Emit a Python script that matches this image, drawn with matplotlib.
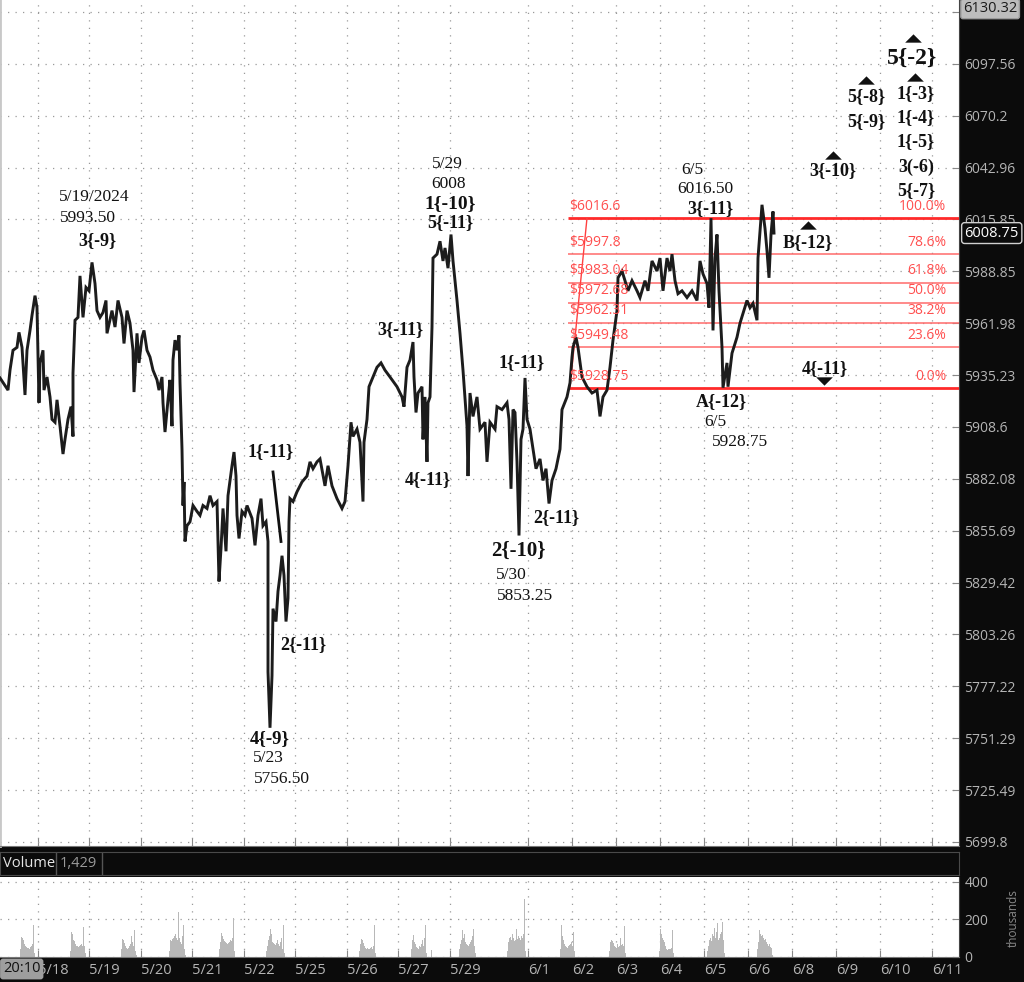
import numpy as np
import matplotlib.pyplot as plt
from matplotlib.ticker import NullLocator

# ==========================================
# data: price path (time index, price) by session
# ==========================================
path_0517 = [(0, 5933.75), (8, 5927.5), (10, 5937.75), (13, 5948.0), (17, 5949.5), (19, 5957.25),
             (22, 5949.5), (23, 5941.5), (25, 5925.0), (27, 5948.0), (30, 5958.25), (32, 5966.0),
             (35, 5976.25), (37, 5970.0), (39, 5921.0), (40, 5941.5), (43, 5948.0), (44, 5927.5),
             (47, 5934.25), (50, 5924.0), (52, 5912.5), (55, 5911.0), (57, 5922.5), (60, 5909.0),
             (63, 5894.75), (65, 5902.25), (68, 5912.5), (71, 5919.0), (73, 5903.75), (73, 5936.25)]
path_0519 = [(75, 5963.5), (78, 5965.0), (80, 5986.5), (83, 5965.0), (86, 5980.5), (89, 5978.75),
             (92, 5993.5), (95, 5982.5), (97, 5968.5), (100, 5965.0), (103, 5967.5), (106, 5973.75),
             (107, 5956.75), (112, 5968.5), (115, 5960.0), (118, 5973.75), (122, 5965.0), (124, 5951.5),
             (127, 5968.5), (130, 5962.0), (133, 5948.0), (134, 5926.5), (137, 5956.75), (139, 5941.5),
             (142, 5954.75), (144, 5958.25), (147, 5948.0), (150, 5944.5), (153, 5937.75), (157, 5932.75),
             (159, 5927.5), (162, 5934.25), (163, 5921.0), (165, 5906.0), (168, 5922.5), (170, 5932.75),
             (172, 5909.0), (173, 5943.0), (175, 5953.25), (177, 5948.0), (179, 5955.75), (180, 5931.25)]
path_0521 = [(182, 5897.25), (183, 5868.5), (184, 5880.5), (185, 5850.25), (187, 5858.25), (190, 5860.25),
             (193, 5868.5), (197, 5865.5), (200, 5863.5), (203, 5868.5), (207, 5867.0), (210, 5873.5),
             (213, 5868.5), (217, 5870.5), (219, 5830.0), (221, 5846.75), (223, 5867.0), (226, 5845.25),
             (228, 5873.5), (232, 5888.75), (234, 5895.75), (236, 5883.5), (237, 5863.5), (239, 5851.75),
             (242, 5865.5), (245, 5863.5), (247, 5868.5), (252, 5862.0), (255, 5848.25), (258, 5863.5),
             (261, 5872.0), (263, 5858.25), (266, 5860.25), (268, 5850.25)]
path_0523 = [(268, 5784.5), (270, 5756.5), (272, 5782.5), (273, 5816.25), (276, 5809.75), (278, 5825.0),
             (280, 5833.0), (282, 5843.0), (284, 5833.0), (286, 5809.75), (288, 5821.5), (289, 5860.25),
             (290, 5872.0), (293, 5870.5), (297, 5875.5), (302, 5880.5), (307, 5883.5), (310, 5890.75),
             (313, 5887.25), (317, 5890.75), (320, 5892.25), (325, 5878.5), (328, 5888.75), (332, 5878.5),
             (337, 5872.0), (342, 5867.0), (345, 5870.5), (348, 5888.75), (351, 5911.0), (353, 5903.75),
             (357, 5907.5), (360, 5900.75), (363, 5870.5), (364, 5900.75), (367, 5912.5)]
path_0527 = [(369, 5929.25), (373, 5934.25), (377, 5939.25), (381, 5941.5), (385, 5937.75), (390, 5934.25),
             (397, 5929.25), (402, 5924.0), (404, 5919.0), (407, 5939.25), (410, 5943.0), (413, 5952.25),
             (414, 5934.25), (416, 5916.0), (418, 5926.0), (422, 5929.25), (423, 5902.25), (425, 5924.0),
             (427, 5890.75), (428, 5921.0), (430, 5924.0), (432, 5960.0), (433, 5995.75), (437, 5997.75),
             (440, 6004.5), (443, 5994.25), (445, 6001.0), (448, 5990.5), (451, 6008.0), (453, 5994.25),
             (457, 5973.75), (460, 5956.75), (463, 5937.75), (467, 5909.0), (468, 5883.5), (470, 5926.0)]
path_0530 = [(473, 5914.0), (477, 5924.0), (480, 5907.5), (485, 5911.0), (487, 5890.75), (490, 5911.0),
             (495, 5907.5), (497, 5919.0), (502, 5917.5), (507, 5921.0), (509, 5912.5), (511, 5877.0),
             (513, 5917.5), (515, 5916.0), (517, 5890.75), (519, 5853.25), (521, 5902.25), (523, 5907.5),
             (525, 5933.75), (527, 5912.5), (530, 5907.5), (533, 5897.25), (536, 5887.25), (540, 5892.25),
             (543, 5881.25), (546, 5887.25), (549, 5869.5), (552, 5881.25), (556, 5887.25), (560, 5897.25)]
path_0602 = [(562, 5917.5), (567, 5924.0), (570, 5931.25), (572, 5944.5), (573, 5949.5), (576, 5954.75),
             (578, 5949.5), (582, 5934.25), (587, 5929.25), (592, 5926.0), (597, 5927.5), (600, 5914.0),
             (603, 5924.0), (607, 5927.5), (610, 5939.25), (613, 5953.25), (617, 5968.5), (618, 5985.5),
             (622, 5989.0), (625, 5984.0), (628, 5978.75), (632, 5984.0), (637, 5978.75), (640, 5975.25),
             (645, 5984.0), (648, 5978.75), (652, 5994.25), (657, 5989.0), (660, 5995.75), (663, 5978.75),
             (667, 5995.75), (670, 5989.0), (672, 5997.75), (675, 5984.0), (678, 5977.25), (682, 5978.75)]
path_0605 = [(687, 5975.25), (692, 5978.75), (697, 5973.75), (700, 5994.25), (703, 5987.5), (707, 5982.5),
             (709, 5970.0), (711, 6016.5), (713, 5958.25), (715, 5995.75), (717, 6008.0), (719, 5978.75),
             (722, 5949.5), (723, 5928.75), (727, 5941.5), (728, 5929.25), (732, 5946.5), (737, 5954.75),
             (740, 5962.0), (743, 5967.0), (747, 5973.75), (750, 5970.0), (753, 5972.25), (757, 5963.5),
             (758, 5995.75), (760, 6009.5), (762, 6023.5), (765, 6011.25), (767, 5999.5), (769, 5985.5),
             (771, 6008.0), (773, 6020.0), (774, 6008.75)]

# volume clusters: first bar index and bar heights
vol_start = [20, 70, 121, 169, 219, 266, 359, 411, 459, 507, 560, 609, 659, 707, 757]
vol_bars = [
    [40, 105, 100, 90, 70, 60, 55, 50, 50, 45, 55, 60, 70, 170, 20],
    [30, 130, 120, 90, 85, 70, 60, 60, 55, 60, 65, 70, 60, 157, 60, 20],
    [40, 95, 90, 75, 60, 50, 45, 50, 60, 70, 110, 80, 60, 142, 30, 10],
    [30, 90, 85, 95, 100, 110, 120, 100, 90, 240, 100, 80, 70, 110, 169, 40, 10],
    [40, 80, 125, 110, 95, 85, 80, 75, 70, 75, 80, 90, 85, 100, 205, 30],
    [30, 60, 90, 110, 150, 120, 80, 75, 70, 65, 75, 90, 70, 60, 80, 100, 40, 169, 20],
    [30, 70, 95, 90, 75, 60, 50, 45, 50, 40, 45, 50, 55, 45, 60, 169, 20],
    [40, 90, 116, 80, 70, 55, 50, 45, 60, 55, 70, 90, 60, 100, 169, 20, 0, 0, 0, 0, 36],
    [40, 70, 90, 142, 100, 120, 80, 70, 65, 60, 70, 80, 90, 110, 146, 60, 20],
    [30, 80, 100, 108, 90, 120, 100, 85, 90, 150, 95, 110, 100, 90, 110, 100, 120, 306, 30],
    [40, 171, 110, 90, 70, 60, 55, 50, 60, 65, 70, 80, 60, 135, 30],
    [30, 80, 90, 85, 75, 60, 55, 50, 70, 55, 60, 100, 65, 70, 60, 162, 20],
    [30, 148, 120, 100, 90, 80, 60, 45, 36, 40, 40, 45, 50, 144, 20],
    [30, 60, 90, 100, 85, 120, 110, 153, 100, 130, 180, 90, 100, 120, 130, 184, 90, 20],
    [40, 80, 144, 120, 110, 117, 100, 90, 95, 80, 70, 60, 70, 54, 50, 10],
]

price_ticks = [5699.8, 5725.49, 5751.29, 5777.22, 5803.26, 5829.42, 5855.69, 5882.08, 5908.6,
               5935.23, 5961.98, 5988.85, 6015.85, 6042.96, 6070.2, 6097.56, 6125.03]
date_ticks = [38, 89, 141, 192, 244, 295, 347, 398, 450, 528, 572, 616, 660, 704, 748, 792, 836, 880, 932]
date_labels = ['5/18', '5/19', '5/20', '5/21', '5/22', '5/25', '5/26', '5/27', '5/29', '6/1',
               '6/2', '6/3', '6/4', '6/5', '6/6', '6/8', '6/9', '6/10', '6/11']

fib_levels = [6016.6, 5997.8, 5983.04, 5972.68, 5962.31, 5949.48, 5928.75]
fib_pcts = ['100.0%', '78.6%', '61.8%', '50.0%', '38.2%', '23.6%', '0.0%']
fib_start = 568

last_price = 6008.75
axis_high = 6130.32
last_volume = '1,429'

# wave labels: (text, t, price, bold, size)
wave_labels = [
    ('5/19/2024', 94, 6027.4, False, 12.5), ('5993.50', 88, 6016.4, False, 12.5), ('3{-9}', 97, 6005.0, True, 13),
    ('1{-11}', 271, 5895.8, True, 13), ('2{-11}', 303, 5798.1, True, 13),
    ('4{-9}', 270, 5751.0, True, 13.5), ('5/23', 268, 5741.4, False, 12.5), ('5756.50', 282, 5730.8, False, 12.5),
    ('3{-11}', 400, 5958.8, True, 13), ('4{-11}', 428, 5881.6, True, 13),
    ('5/29', 447, 6044.7, False, 12.5), ('6008', 448, 6034.2, False, 12.5),
    ('1{-10}', 450, 6024.2, True, 14), ('5{-11}', 450, 6014.3, True, 13),
    ('1{-11}', 522, 5941.9, True, 13), ('2{-11}', 556, 5862.4, True, 13),
    ('2{-10}', 518, 5845.7, True, 15), ('5/30', 511, 5833.0, False, 12.5), ('5853.25', 525, 5822.4, False, 12.5),
    ('6/5', 692, 6041.6, False, 12.5), ('6016.50', 705, 6031.6, False, 12.5), ('3{-11}', 710, 6021.4, True, 13),
    ('A{-12}', 721, 5921.6, True, 13), ('6/5', 715, 5910.9, False, 12.5), ('5928.75', 740, 5900.8, False, 12.5),
    ('B{-12}', 808, 6004.0, True, 13), ('4{-11}', 825, 5938.8, True, 13), ('3{-10}', 833, 6041.6, True, 13),
    ('5{-8}', 866, 6080.4, True, 13), ('5{-9}', 866, 6067.3, True, 13),
    ('5{-2}', 912, 6100.7, True, 17),
    ('1{-3}', 916, 6082.0, True, 13), ('1{-4}', 916, 6069.4, True, 13), ('1{-5}', 916, 6056.8, True, 13),
    ('3(-6)', 916, 6043.2, True, 13), ('5{-7}', 916, 6031.1, True, 13),
]
# arrows: (t, price, up)
arrows = [(808, 6012.7, True), (824, 5932.2, False), (833, 6049.5, True),
          (866, 6088.8, True), (913, 6111.3, True), (915, 6090.4, True)]
# hand-drawn trend line and fib anchor line
trend_line = [(273, 5885.6), (281, 5850.2)]
fib_anchor = [(570, 5928.75), (587, 6016.6)]

# ==========================================
# figure
# ==========================================
W, H = 1024, 982
fig = plt.figure(figsize=(W / 100, H / 100), dpi=100, facecolor='#0b0b0b')
ui_font = 'Open Sans'
serif = 'Liberation Serif'
axis_grey = '#b4b4b4'
grid_kw = dict(color='#9a9a9a', linestyle=(0, (1, 5)), linewidth=0.9)

ax = fig.add_axes([0.0, 1 - 846 / H, 959 / W, 846 / H])
ax.set_facecolor('white')
ax.set_yscale('log')
ax.set_ylim(5697.8, 6131.4)
ax.set_xlim(0, 959)

paths = [path_0517, path_0519, path_0521, path_0523, path_0527, path_0530, path_0602, path_0605]
pts = [p for seg in paths for p in seg]
pt = np.array([p[0] for p in pts])
pv = np.array([p[1] for p in pts])
ax.plot(pt, pv, color='#1c1c1c', lw=2.1, zorder=4, solid_joinstyle='miter')

ax.set_yticks(price_ticks)
# top tick label sits under the session-high box, as on the reference
ax.set_yticklabels([f'{v:g}' for v in price_ticks[:-1]] + [''])
ax.yaxis.set_minor_locator(NullLocator())
ax.yaxis.tick_right()
ax.tick_params(axis='y', which='major', direction='in', length=5, color='#888888',
               labelcolor=axis_grey, labelsize=10, pad=4)
for lbl in ax.get_yticklabels():
    lbl.set_fontfamily(ui_font)
ax.set_xticks(date_ticks)
ax.tick_params(axis='x', direction='in', length=6, color='#888888', labelbottom=False)
ax.grid(True, **grid_kw)
ax.set_axisbelow(True)
ax.spines['top'].set_visible(False)
ax.spines['left'].set_color('#c8c8c8')
ax.spines['left'].set_linewidth(2)
ax.spines['bottom'].set_color('#777777')
ax.spines['right'].set_color('#444444')

# fibonacci retracement
for i, (lev, pct) in enumerate(zip(fib_levels, fib_pcts)):
    edge = i in (0, len(fib_levels) - 1)
    ax.plot([fib_start, 959], [lev, lev], color='#ff2a2a' if edge else '#ff6b6b',
            lw=2.0 if edge else 1.1, zorder=3, solid_capstyle='butt')
    ax.annotate(f'${lev:g}', (fib_start + 1, lev), xytext=(0, 3), textcoords='offset points',
                ha='left', va='bottom', color='#ff4f4f', fontsize=10, family=ui_font, zorder=5)
    ax.annotate(pct, (946, lev), xytext=(0, 3), textcoords='offset points',
                ha='right', va='bottom', color='#ff4f4f', fontsize=10, family=ui_font, zorder=5)
ax.plot([p[0] for p in fib_anchor], [p[1] for p in fib_anchor], color='#ff4040', lw=1, zorder=3)

# wave annotations
for txt, t, p, bold, size in wave_labels:
    ax.text(t, p, txt, ha='center', va='center', fontsize=size, family=serif,
            fontweight='bold' if bold else 'normal', color='#111111', zorder=6)
tri = [(-1, -0.5), (1, -0.5), (0, 0.5)]
tri_down = [(-1, 0.5), (1, 0.5), (0, -0.5)]
for t, p, up in arrows:
    ax.plot([t], [p], marker=tri if up else tri_down, ms=12, color='#111111',
            markeredgewidth=0, zorder=6)
ax.plot([q[0] for q in trend_line], [q[1] for q in trend_line], color='#111111', lw=2, zorder=6)

# price boxes on right axis
ax.annotate(f'{last_price:g}', (1.0, last_price), xycoords=('axes fraction', 'data'),
            xytext=(4, 0), textcoords='offset points', ha='left', va='center',
            color='white', fontsize=10.5, family=ui_font, zorder=10, annotation_clip=False,
            bbox=dict(boxstyle='round,pad=0.2', fc='#0b0b0b', ec='#d0d0d0', lw=1))
fig.text(963 / W, 1 - 9 / H, f'{axis_high:g}', ha='left', va='center', color='#1a1a1a',
         fontsize=10.5, family=ui_font, zorder=10,
         bbox=dict(boxstyle='round,pad=0.15', fc='#bdbdbd', ec='#9a9a9a', lw=1))

# volume header
hax = fig.add_axes([0.0, 1 - 875 / H, 959 / W, 23 / H])
hax.set_facecolor('#0b0b0b')
hax.set_xlim(0, 959)
hax.set_ylim(0, 1)
hax.set_xticks([])
hax.set_yticks([])
for s in hax.spines.values():
    s.set_color('#4a4a4a')
hax.text(3, 0.5, 'Volume', color='#e6e6e6', fontsize=10.5, family=ui_font, va='center')
hax.text(60, 0.5, last_volume, color='#9a9a9a', fontsize=10.5, family=ui_font, va='center')
for xs in (56, 102):
    hax.axvline(xs, color='#555555', lw=1)

# volume panel
vax = fig.add_axes([0.0, 1 - 957 / H, 959 / W, 80 / H])
vax.set_facecolor('white')
vax.set_xlim(0, 959)
vax.set_ylim(0, 424)
for s0, bars in zip(vol_start, vol_bars):
    vax.bar(np.arange(len(bars)) + s0, bars, width=0.95, color='#b8b8b8', align='edge', zorder=2)
vax.set_yticks([0, 200, 400])
vax.yaxis.tick_right()
vax.tick_params(axis='y', direction='in', length=5, color='#888888', labelcolor=axis_grey,
                labelsize=10, pad=4)
vax.set_xticks(date_ticks)
vax.set_xticklabels(date_labels)
vax.tick_params(axis='x', direction='in', length=5, color='#888888', labelcolor=axis_grey,
                labelsize=10.5, pad=4)
for lbl in vax.get_xticklabels() + vax.get_yticklabels():
    lbl.set_fontfamily(ui_font)
for lbl in vax.get_xticklabels():
    lbl.set_ha('left')
vax.grid(True, **grid_kw)
vax.set_axisbelow(True)
vax.spines['top'].set_visible(False)
vax.spines['left'].set_visible(False)
vax.spines['bottom'].set_color('#777777')
vax.spines['right'].set_color('#444444')

fig.text(3 / W, 1 - 969 / H, '20:10', ha='left', va='center', color='#111111', fontsize=10.5,
         family=ui_font, zorder=10, bbox=dict(boxstyle='round,pad=0.2', fc='#9e9e9e', ec='none'))
fig.text(1013 / W, 1 - 918 / H, 'thousands', rotation=90, ha='center', va='center',
         color='#8a8a8a', fontsize=8.5, family=ui_font)

fig.savefig('out.png', dpi=100, facecolor=fig.get_facecolor())
